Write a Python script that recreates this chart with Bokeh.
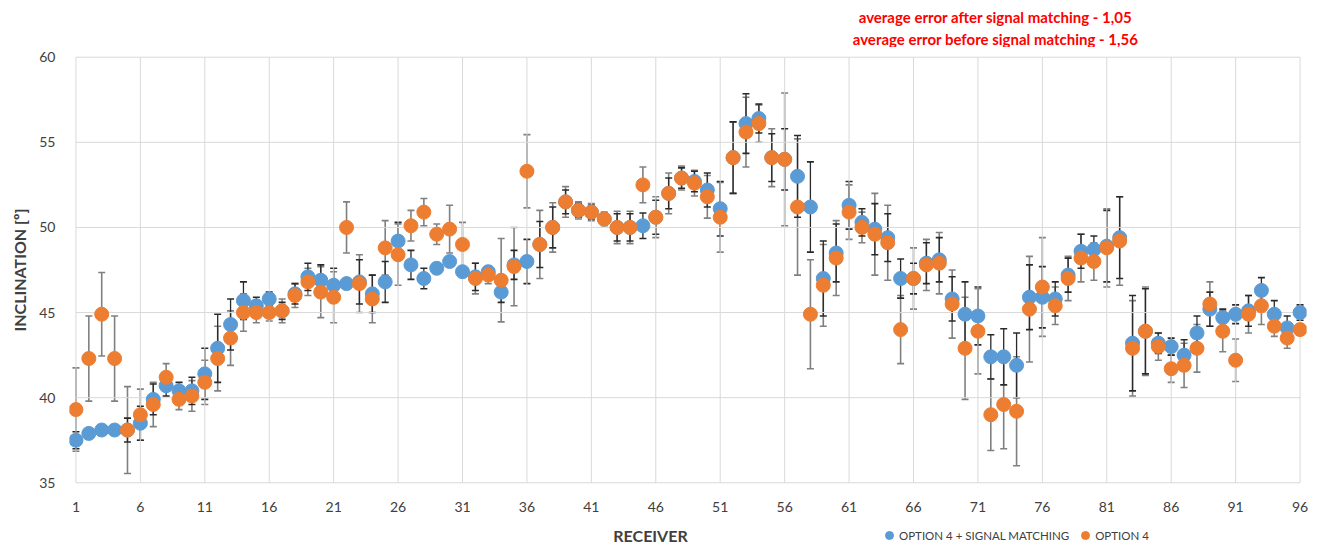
from bokeh.plotting import figure
from bokeh.layouts import column
from bokeh.models import (Whisker, TeeHead, Range1d, FixedTicker, Label,
                          Legend, LegendItem, ColumnDataSource)
from bokeh.embed import file_html
from bokeh.resources import INLINE

receivers = list(range(1, 97))
x_ticks = list(range(1, 97, 5))
y_ticks = [35, 40, 45, 50, 55, 60]

blue = [37.5, 37.9, 38.1, 38.1, 38.1, 38.5, 39.9, 40.7, 40.4, 40.4,
        41.4, 42.9, 44.3, 45.7, 45.4, 45.8, 45.1, 46.1, 47.1, 46.9,
        46.6, 46.7, 46.8, 46.1, 46.8, 49.2, 47.8, 47.0, 47.6, 48.0,
        47.4, 47.1, 47.4, 46.2, 47.8, 48.0, 49.0, 50.0, 51.5, 51.0,
        50.9, 50.5, 50.0, 50.0, 50.1, 50.6, 52.0, 52.9, 52.7, 52.2,
        51.1, 54.1, 56.1, 56.4, 54.1, 54.0, 53.0, 51.2, 47.0, 48.5,
        51.3, 50.3, 49.9, 49.4, 47.0, 47.0, 47.9, 48.1, 45.8, 44.9,
        44.8, 42.4, 42.4, 41.9, 45.9, 45.9, 45.8, 47.2, 48.6, 48.7,
        48.9, 49.4, 43.2, 43.9, 43.2, 43.0, 42.5, 43.8, 45.2, 44.7,
        44.9, 45.1, 46.3, 44.9, 44.1, 45.0]

blue_err = [0.5, 0.2, 0.2, 0.2, 0.7, 1.0, 0.9, 0.6, 0.5, 0.8,
            1.5, 2.0, 1.5, 1.1, 0.5, 0.4, 0.5, 0.6, 0.8, 0.9,
            1.0, 0.3, 1.3, 1.1, 1.2, 1.1, 0.85, 0.6, 0.2, 0.2,
            0.2, 0.8, 0.3, 0.6, 0.85, 1.3, 1.35, 1.2, 0.7, 0.4,
            0.4, 0.3, 0.8, 0.8, 0.75, 1.0, 0.9, 0.6, 0.6, 1.0,
            1.6, 2.1, 1.75, 0.85, 1.4, 1.8, 2.4, 2.65, 2.2, 1.7,
            1.4, 0.8, 1.5, 1.4, 1.15, 0.9, 1.2, 1.3, 1.3, 1.9,
            1.7, 1.3, 1.65, 1.9, 1.9, 1.8, 1.0, 1.0, 1.0, 0.8,
            2.1, 2.4, 2.8, 2.5, 0.6, 0.5, 0.9, 1.0, 1.0, 0.5,
            0.55, 0.9, 0.75, 0.8, 0.7, 0.45]

orange = [39.3, 42.3, 44.9, 42.3, 38.1, 39.0, 39.6, 41.2, 39.9, 40.1,
          40.9, 42.3, 43.5, 45.0, 45.0, 45.0, 45.1, 46.0, 46.8, 46.2,
          45.9, 50.0, 46.7, 45.8, 48.8, 48.4, 50.1, 50.9, 49.6, 49.9,
          49.0, 47.0, 47.2, 46.9, 47.7, 53.3, 49.0, 50.0, 51.5, 51.0,
          50.9, 50.5, 50.0, 50.0, 52.5, 50.6, 52.0, 52.9, 52.6, 51.8,
          50.6, 54.1, 55.6, 56.1, 54.1, 54.0, 51.2, 44.9, 46.6, 48.2,
          50.9, 50.0, 49.6, 49.1, 44.0, 47.0, 47.8, 47.9, 45.5, 42.9,
          43.9, 39.0, 39.6, 39.2, 45.2, 46.5, 45.4, 47.0, 48.2, 48.0,
          48.8, 49.2, 42.9, 43.9, 43.0, 41.7, 41.9, 42.9, 45.5, 43.9,
          42.2, 44.9, 45.4, 44.2, 43.5, 44.0]

orange_err = [2.45, 2.5, 2.45, 2.5, 2.55, 1.5, 1.3, 0.8, 0.6, 0.9,
              1.3, 1.9, 1.6, 1.1, 0.6, 0.5, 0.7, 0.7, 0.8, 1.5,
              1.5, 1.5, 1.7, 1.4, 1.6, 1.8, 0.9, 0.8, 0.6, 1.4,
              1.3, 0.9, 0.5, 2.45, 2.3, 2.15, 2.0, 1.45, 0.9, 0.5,
              0.5, 0.4, 0.95, 0.95, 1.05, 1.2, 1.2, 0.7, 0.75, 1.25,
              2.05, 2.1, 2.05, 1.1, 1.7, 3.9, 4.0, 3.2, 2.4, 2.2,
              1.6, 0.9, 2.4, 2.2, 2.0, 1.8, 1.5, 1.8, 2.0, 3.0,
              2.5, 2.1, 2.6, 3.2, 3.1, 2.9, 1.1, 1.3, 1.4, 1.1,
              2.3, 2.6, 2.8, 2.6, 0.8, 0.8, 1.3, 1.4, 1.3, 1.2,
              1.25, 1.1, 1.1, 0.6, 0.6, 0.3]

series_labels = ["OPTION 4 + SIGNAL MATCHING", "OPTION 4"]
notes = ["average error after signal matching - 1,05",
         "average error before signal matching - 1,56"]
x_title = "RECEIVER"
y_title = "INCLINATION [º]"

FONT = "Lato"
BLUE = "#5B9BD5"
ORANGE = "#ED7D31"
GRID = "#D9D9D9"
TXT = "#404040"


def strip(height):
    """A bare strip whose frame is aligned with the main plot's frame."""
    f = figure(width=1320, height=height, output_backend="svg",
               toolbar_location=None, x_range=Range1d(69, 1306),
               y_range=Range1d(0, height), x_axis_location=None,
               y_axis_location=None, min_border_left=69, min_border_right=14,
               min_border_top=0, min_border_bottom=0)
    f.outline_line_color = None
    f.xgrid.visible = False
    f.ygrid.visible = False
    return f


# top strip: red notes
p0 = strip(47)
for yv, t in zip([31, 9], notes):
    p0.add_layout(Label(x=995, y=yv, text=t, text_font=FONT,
                        text_font_style="bold", text_font_size="15px",
                        text_color="#FF0000", text_align="center",
                        text_baseline="middle"))

# main plot
p = figure(width=1320, height=471, output_backend="svg", toolbar_location=None,
           x_range=Range1d(0.5, 96.5), y_range=Range1d(34.9, 60.1),
           min_border_left=69, min_border_right=14, min_border_top=8,
           min_border_bottom=34)
p.outline_line_color = None
p.xgrid.visible = False
p.ygrid.visible = False

# gridlines spanning the tick range
p.segment(x0=[x_ticks[0]] * len(y_ticks), x1=[x_ticks[-1]] * len(y_ticks),
          y0=y_ticks, y1=y_ticks, line_color=GRID, line_width=1)
p.segment(x0=x_ticks, x1=x_ticks, y0=[y_ticks[0]] * len(x_ticks),
          y1=[y_ticks[-1]] * len(x_ticks), line_color=GRID, line_width=1)

src = ColumnDataSource(dict(
    x=receivers, blue=blue, orange=orange,
    b_up=[v + e for v, e in zip(blue, blue_err)],
    b_lo=[v - e for v, e in zip(blue, blue_err)],
    o_up=[v + e for v, e in zip(orange, orange_err)],
    o_lo=[v - e for v, e in zip(orange, orange_err)],
))

w_o = Whisker(source=src, base="x", upper="o_up", lower="o_lo",
              line_color="#808080", line_width=1.6,
              upper_head=TeeHead(size=7, line_color="#808080", line_width=1.6),
              lower_head=TeeHead(size=7, line_color="#808080", line_width=1.6))
w_b = Whisker(source=src, base="x", upper="b_up", lower="b_lo",
              line_color="#2a2a2a", line_width=1.3,
              upper_head=TeeHead(size=7, line_color="#2a2a2a", line_width=1.6),
              lower_head=TeeHead(size=7, line_color="#2a2a2a", line_width=1.6))
p.add_layout(w_o)
p.add_layout(w_b)

p.scatter("x", "blue", source=src, size=14, fill_color=BLUE, line_color=BLUE)
p.scatter("x", "orange", source=src, size=14, fill_color=ORANGE, line_color=ORANGE)

p.xaxis.ticker = FixedTicker(ticks=x_ticks)
p.yaxis.ticker = FixedTicker(ticks=y_ticks)
for ax in (p.xaxis[0], p.yaxis[0]):
    ax.axis_line_color = None
    ax.major_tick_line_color = None
    ax.minor_tick_line_color = None
    ax.major_label_text_font = FONT
    ax.major_label_text_font_size = "14px"
    ax.major_label_text_color = TXT
p.xaxis.major_label_standoff = 11
p.yaxis.major_label_standoff = 8

p.yaxis.axis_label = y_title
p.yaxis.axis_label_text_font = FONT
p.yaxis.axis_label_text_font_style = "bold"
p.yaxis.axis_label_text_font_size = "16px"
p.yaxis.axis_label_text_color = TXT
p.yaxis.axis_label_standoff = 7

# bottom strip: axis title and legend
p2 = strip(28)
nan = float("nan")
lb = p2.scatter(x=[nan], y=[nan], size=9, fill_color=BLUE, line_color=BLUE)
lo = p2.scatter(x=[nan], y=[nan], size=9, fill_color=ORANGE, line_color=ORANGE)

p2.add_layout(Label(x=650, y=11, text=x_title, text_font=FONT,
                    text_font_style="bold", text_font_size="16px",
                    text_color=TXT, text_align="center",
                    text_baseline="middle"))

legend = Legend(items=[LegendItem(label=series_labels[0], renderers=[lb], index=0),
                       LegendItem(label=series_labels[1], renderers=[lo], index=0)],
                orientation="horizontal", location=(810, 1),
                border_line_color=None, background_fill_alpha=0,
                label_text_font=FONT, label_text_font_size="11.5px",
                label_text_color=TXT, glyph_width=20, glyph_height=20,
                spacing=6, padding=0, label_standoff=0, margin=0)
p2.add_layout(legend)

layout = column(p0, p, p2, spacing=0)
open("out.html", "w").write(file_html(layout, INLINE))
